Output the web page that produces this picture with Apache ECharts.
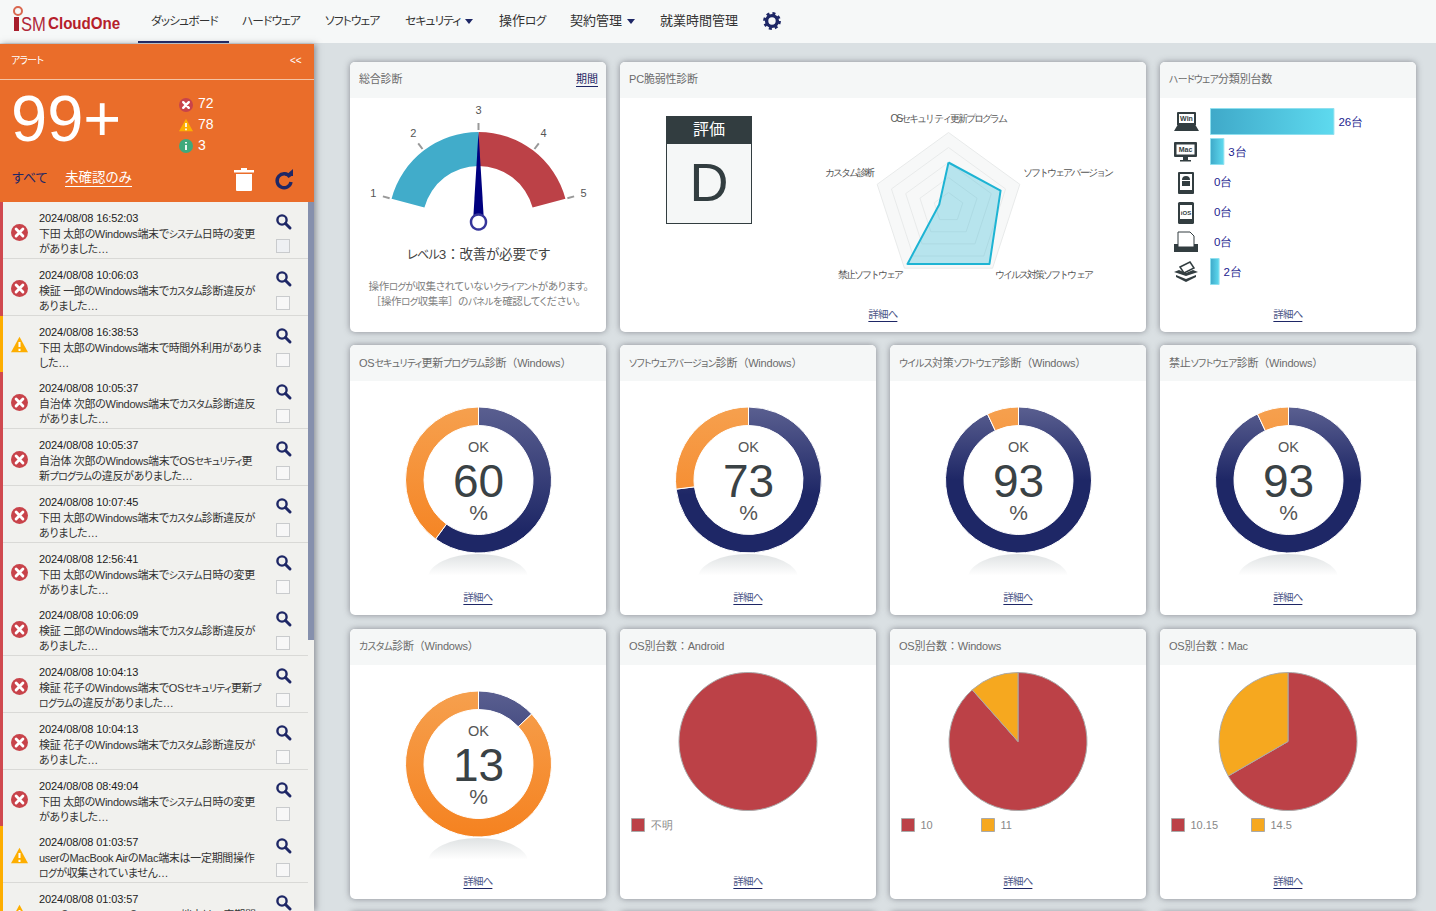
<!DOCTYPE html>
<html lang="ja">
<head>
<meta charset="utf-8">
<title>ISM CloudOne</title>
<script src="https://cdn.jsdelivr.net/npm/echarts@6/dist/echarts.min.js"></script>
<style>
html, body { margin: 0; padding: 0; width: 1436px; height: 911px; overflow: hidden; background: #dae0e3; }
body, text { font-family: "Liberation Sans", "Noto Sans CJK JP", sans-serif; font-feature-settings: "palt"; }
div { position: absolute; white-space: nowrap; }
svg { position: absolute; overflow: visible; }
.k { font-size: .9em; letter-spacing: -.07em; }
.f { font-feature-settings: normal; }
.panel { background: #fff; border-radius: 5px; box-shadow: 0 0 6px rgba(70,70,80,.55); overflow: hidden; }
.head { left: 0; top: 0; right: 0; height: 36px; background: #f5f7f7; }
.title { left: 9px; top: 10px; font-size: 11px; line-height: 15px; color: #6b6b6b; letter-spacing: -.2px; }
.more { font-size: 10.5px; line-height: 13px; color: #4d5788; border-bottom: 1px solid #1e2766; transform: translateX(-50%); letter-spacing: -.8px; }
.nav { top: 12px; font-size: 13px; line-height: 17px; color: #333; }
.item { left: 0; width: 308px; height: 56px; background: #f1f1ee; border-bottom: 1px solid #d9d9d6; }
.radar text { letter-spacing: -1.9px; }
</style>
</head>
<body>
<div id="page" style="left:0;top:0;width:1436px;height:911px;overflow:hidden"></div>
<script>
// chart values
const gaugeLabels = ['1', '2', '3', '4', '5'];
const gaugeLevel = 3;
const radarNames = ['OSセキュリティ更新プログラム', 'カスタム診断', '禁止ソフトウェア', 'ウイルス対策ソフトウェア', 'ソフトウェアバージョン'];
const radarValues = [60, 13, 93, 93, 73];
const hardwareNames = ['Win', 'Mac', 'Android', 'iOS', 'Printer', 'Other'];
const hardwareCounts = [26, 3, 0, 0, 0, 2];
const donutTitles = ['OSセキュリティ更新プログラム診断（Windows）', 'ソフトウェアバージョン診断（Windows）', 'ウイルス対策ソフトウェア診断（Windows）', '禁止ソフトウェア診断（Windows）', 'カスタム診断（Windows）'];
const donutValues = [60, 73, 93, 93, 13];
const androidNames = ['不明'];
const androidCounts = [1];
const windowsNames = ['10', '11'];
const windowsCounts = [23, 3];
const macNames = ['10.15', '14.5'];
const macCounts = [2, 1];

const alertTimes = ['16:52:03', '10:06:03', '16:38:53', '10:05:37', '10:05:37', '10:07:45', '12:56:41', '10:06:09', '10:04:13', '10:04:13', '08:49:04', '01:03:57', '01:03:57'];
const alertKinds = ['e', 'e', 'w', 'e', 'e', 'e', 'e', 'e', 'e', 'e', 'e', 'w', 'w'];
const alertLines = [
	['下田 太郎のWindows端末でシステム日時の変更', 'がありました…'],
	['検証 一郎のWindows端末でカスタム診断違反が', 'ありました…'],
	['下田 太郎のWindows端末で時間外利用がありま', 'した…'],
	['自治体 次郎のWindows端末でカスタム診断違反', 'がありました…'],
	['自治体 次郎のWindows端末でOSセキュリティ更', '新プログラムの違反がありました…'],
	['下田 太郎のWindows端末でカスタム診断違反が', 'ありました…'],
	['下田 太郎のWindows端末でシステム日時の変更', 'がありました…'],
	['検証 二郎のWindows端末でカスタム診断違反が', 'ありました…'],
	['検証 花子のWindows端末でOSセキュリティ更新プ', 'ログラムの違反がありました…'],
	['検証 花子のWindows端末でカスタム診断違反が', 'ありました…'],
	['下田 太郎のWindows端末でシステム日時の変更', 'がありました…'],
	['userのMacBook AirのMac端末は一定期間操作', 'ログが収集されていません…'],
	['userのMacBook AirのWindows端末は一定期間', '操作ログが収集されていません…']
];

const page = document.getElementById('page');
const navy = '#1e2766';
const red = '#bc4147';
const amber = '#f6a81f';

function box(parent, css, html) {
	const el = document.createElement('div');
	el.style.cssText = css;
	if (html !== undefined) el.innerHTML = html;
	parent.appendChild(el);
	return el;
}

// the reference's kana are much narrower than Noto's
function narrow(text) {
	return text.replace(/[ァ-ヶー]+/g, function (m) { return '<span class="k">' + m + '</span>'; })
		.replace(/[（）［］：]/g, function (m) { return '<span class="f">' + m + '</span>'; });
}

function errorIcon(x, y, r) {
	return '<svg style="left:' + (x - r) + 'px;top:' + (y - r) + 'px" width="' + (2 * r) + '" height="' + (2 * r) + '" viewBox="0 0 20 20"><circle cx="10" cy="10" r="10" fill="#c8434a"/><path d="M6 6L14 14M14 6L6 14" stroke="#fff" stroke-width="3.4" stroke-linecap="round"/></svg>';
}
function warnIcon(x, y, r) {
	return '<svg style="left:' + (x - r) + 'px;top:' + (y - r) + 'px" width="' + (2 * r) + '" height="' + (2 * r) + '" viewBox="0 0 20 20"><path d="M10 1L20 19H0Z" fill="#fdae00"/><path d="M10 7V13M10 15V17.5" stroke="#fff" stroke-width="2.4"/></svg>';
}
function lensIcon(x, y) {
	return '<svg style="left:' + x + 'px;top:' + y + 'px" width="15" height="15" viewBox="0 0 15 15"><circle cx="6" cy="6" r="4.6" fill="none" stroke="' + navy + '" stroke-width="2.4"/><path d="M9.5 9.5L14 14" stroke="' + navy + '" stroke-width="3" stroke-linecap="round"/></svg>';
}

// top navigation
function buildNav() {
	box(page, 'left:0;top:0;width:1436px;height:43px;background:#f6f8f8');
	box(page, 'left:14px;top:17px;width:5px;height:14px;background:#a81e2c');
	box(page, 'left:13px;top:6px;width:6px;height:6px;border:2px solid #d9674f;border-radius:50%');
	box(page, 'left:21px;top:13px;font-size:20px;line-height:22px;color:#b0283a;transform:scaleX(.83);transform-origin:left', 'SM');
	box(page, 'left:48px;top:13px;font-weight:bold;font-size:17px;line-height:22px;color:#b5202a;transform:scaleX(.89);transform-origin:left', 'CloudOne');
	const items = [['ダッシュボード', 151], ['ハードウェア', 242], ['ソフトウェア', 325], ['セキュリティ', 405], ['操作ログ', 499], ['契約管理', 570], ['就業時間管理', 660]];
	items.forEach(function (it) {
		const n = box(page, 'left:' + it[1] + 'px', narrow(it[0]));
		n.className = 'nav';
	});
	box(page, 'left:465px;top:19px;width:0;height:0;border:4px solid transparent;border-top:5px solid ' + navy + ';border-bottom:0');
	box(page, 'left:627px;top:19px;width:0;height:0;border:4px solid transparent;border-top:5px solid ' + navy + ';border-bottom:0');
	box(page, 'left:138px;top:41px;width:91px;height:2px;background:' + navy);
	box(page, 'left:763px;top:12px', '<svg width="18" height="18" viewBox="0 0 18 18"><circle cx="9" cy="9" r="5.4" fill="none" stroke="' + navy + '" stroke-width="3.4"/><circle cx="9" cy="9" r="7.6" fill="none" stroke="' + navy + '" stroke-width="2.6" stroke-dasharray="3 3"/></svg>');
}

// alert sidebar on the left
function buildSidebar() {
	const side = box(page, 'left:0;top:44px;width:314px;height:867px;background:#f1f1ee;box-shadow:2px 0 6px rgba(70,70,80,.5);overflow:hidden');
	box(side, 'left:0;top:0;width:314px;height:158px;background:#ea6d2a');
	box(side, 'left:0;top:35px;width:314px;height:1px;background:#f4c3a4');
	box(side, 'left:11px;top:9px;font-size:11px;line-height:15px;color:#fff', narrow('アラート'));
	box(side, 'left:290px;top:9px;font-size:10px;line-height:15px;color:#fff', '&lt;&lt;');
	box(side, 'left:11px;top:38px;font-size:65px;line-height:74px;color:#fff', '99+');
	side.insertAdjacentHTML('beforeend', errorIcon(186, 61, 7));
	side.insertAdjacentHTML('beforeend', warnIcon(186, 81, 7));
	side.insertAdjacentHTML('beforeend', '<svg style="left:179px;top:95px" width="14" height="14" viewBox="0 0 14 14"><circle cx="7" cy="7" r="7" fill="#3fa97c"/><path d="M7 6V11M7 3V4.6" stroke="#fff" stroke-width="1.8"/></svg>');
	box(side, 'left:198px;top:51px;font-size:14px;line-height:17px;color:#fff', '72');
	box(side, 'left:198px;top:72px;font-size:14px;line-height:17px;color:#fff', '78');
	box(side, 'left:198px;top:93px;font-size:14px;line-height:17px;color:#fff', '3');
	box(side, 'left:12px;top:125px;font-size:13px;line-height:17px;color:' + navy, 'すべて');
	box(side, 'left:65px;top:125px;font-size:13.5px;line-height:17px;color:#fff;border-bottom:1px solid #fff', '未確認のみ');
	side.insertAdjacentHTML('beforeend', '<svg style="left:234px;top:124px" width="20" height="23" viewBox="0 0 20 23"><path d="M7 0H13V2H20V4.500H0V2H7Z M2 6H18V22a1 1 0 0 1-1 1H3a1 1 0 0 1-1-1Z" fill="#fff"/></svg>');
	side.insertAdjacentHTML('beforeend', '<svg style="left:276px;top:125px" width="19" height="20" viewBox="0 0 19 20"><path d="M14 8A7 7 0 1 0 15 13" fill="none" stroke="' + navy + '" stroke-width="3.400"/><path d="M9 7H17V0Z" fill="' + navy + '"/></svg>');

	alertTimes.forEach(function (time, i) {
		const top = 158 + i * 56.75;
		const kind = alertKinds[i];
		const item = box(side, 'top:' + top + 'px');
		item.className = 'item';
		box(item, 'left:0;top:0;width:3px;height:57px;background:' + (kind === 'e' ? '#d0494f' : '#fdae00'));
		item.insertAdjacentHTML('beforeend', kind === 'e' ? errorIcon(19.5, 30, 8.5) : warnIcon(19.5, 29, 8.5));
		box(item, 'left:39px;top:9px;font-size:11px;line-height:15px;color:#222;letter-spacing:-.08px', '2024/08/08 ' + time);
		box(item, 'left:39px;top:25px;font-size:11px;line-height:15px;color:#333;letter-spacing:-.3px', narrow(alertLines[i][0]));
		box(item, 'left:39px;top:40px;font-size:11px;line-height:15px;color:#333;letter-spacing:-.3px', narrow(alertLines[i][1]));
		item.insertAdjacentHTML('beforeend', lensIcon(276, 12));
		box(item, 'left:276px;top:37px;width:12px;height:12px;border:1px solid #c9cbcd;background:' + (i === 0 ? '#eef0f3' : '#f7f7f7'));
	});
	box(side, 'left:308px;top:158px;width:6px;height:438px;background:#8690ad');
}

// one white card with its grey header
function panel(x, y, w, title) {
	const el = box(page, 'left:' + x + 'px;top:' + y + 'px;width:' + w + 'px;height:270px');
	el.className = 'panel';
	const head = box(el, '');
	head.className = 'head';
	const t = box(head, y === 345 ? 'top:11px' : '', narrow(title));
	t.className = 'title';
	return el;
}
function detail(el, x) {
	const more = box(el, 'left:' + x + 'px;top:246px', '詳細へ');
	more.className = 'more';
}
function chartDiv(el, x, y, w, h) {
	const d = box(el, 'left:' + x + 'px;top:' + y + 'px;width:' + w + 'px;height:' + h + 'px');
	return echarts.init(d, null, {renderer: 'svg'});
}

function buildGauge() {
	const el = panel(350, 62, 256, '総合診断');
	box(el, 'left:226px;top:10px;font-size:11px;line-height:14px;color:' + navy + ';border-bottom:1px solid ' + navy, '期間');
	box(el, 'left:128.500px;top:184px;transform:translateX(-50%);font-size:13.5px;line-height:18px;color:#444;letter-spacing:-.2px', narrow('レベル' + gaugeLevel + '：改善が必要です'));
	box(el, 'left:128.500px;top:217px;transform:translateX(-50%);font-size:10.5px;line-height:15px;color:#808080;letter-spacing:-.35px', narrow('操作ログが収集されていないクライアントがあります。'));
	box(el, 'left:125.500px;top:232px;transform:translateX(-50%);font-size:10.5px;line-height:15px;color:#808080;letter-spacing:-.35px', narrow('［操作ログ収集率］のパネルを確認してください。'));
	const chart = chartDiv(el, 0, 36, 256, 145);
	chart.setOption({
		animation: false,
		graphic: [{type: 'text', style: {text: gaugeLabels[2], x: 128.5, y: 12, align: 'center', verticalAlign: 'middle', fill: '#555', font: '11px "Liberation Sans"'}}],
		series: [{
			type: 'gauge',
			center: [128.5, 124],
			radius: 90,
			startAngle: 165,
			endAngle: 15,
			min: Number(gaugeLabels[0]),
			max: Number(gaugeLabels[gaugeLabels.length - 1]),
			splitNumber: gaugeLabels.length - 1,
			axisLine: {lineStyle: {width: 34, color: [[0.5, '#41acca'], [1, red]]}},
			axisTick: {show: false},
			splitLine: {distance: -43, length: 7, lineStyle: {color: '#999', width: 2}},
			// the top label is anchored differently by the gauge, so it is drawn as graphic above
			axisLabel: {distance: 14, color: '#555', fontSize: 11, formatter: function (v) { return v === gaugeLevel ? '' : String(v); }},
			pointer: {icon: 'triangle', length: 90, width: 11, offsetCenter: [0, 0], itemStyle: {color: '#00007f'}},
			anchor: {show: true, showAbove: true, size: 15, itemStyle: {color: '#fff', borderColor: '#35359a', borderWidth: 2.5}},
			title: {show: false},
			detail: {show: false},
			data: [{value: gaugeLevel}]
		}]
	});
}

function buildRadar() {
	const el = panel(620, 62, 526, 'PC脆弱性診断');
	box(el, 'left:46px;top:54px;width:86px;height:108px;box-sizing:border-box;border:1px solid #323d40;background:#f5f7f7');
	box(el, 'left:46px;top:54px;width:86px;height:28px;background:#323d40;color:#fff;font-size:16px;line-height:28px;text-align:center', '評価');
	box(el, 'left:46px;top:80px;width:86px;height:80px;color:#323d40;font-size:54px;line-height:80px;text-align:center', 'D');
	detail(el, 263);
	const chart = chartDiv(el, 150, 36, 370, 205);
	chart.getDom().classList.add('radar');
	const font = {color: '#555', fontSize: 10};
	chart.setOption({
		animation: false,
		radar: {
			center: [178.5, 109.5],
			radius: 75,
			splitNumber: 5,
			nameGap: 0,
			axisName: {
				color: '#555',
				fontSize: 10,
				// each name sits on its own side of the pentagon
				formatter: function (name) { return '{s' + radarNames.indexOf(name) + '|' + name + '}'; },
				rich: {
					s0: Object.assign({align: 'center', padding: [0, 0, 9, 0]}, font),
					s1: Object.assign({align: 'right', padding: [0, 4, 24, 0]}, font),
					s2: Object.assign({align: 'right', padding: [13, 2, 0, 0]}, font),
					s3: Object.assign({align: 'left', padding: [13, 0, 0, 2]}, font),
					s4: Object.assign({align: 'left', padding: [0, 0, 24, 3]}, font)
				}
			},
			axisLine: {show: false},
			splitLine: {lineStyle: {color: '#e8eaea', width: 1}},
			splitArea: {areaStyle: {color: ['#f7f8f8', '#f7f8f8'], opacity: 1}},
			indicator: radarNames.map(function (name) { return {name: name, max: 100}; })
		},
		series: [{
			type: 'radar',
			symbol: 'none',
			lineStyle: {color: '#1eb4d4', width: 2},
			areaStyle: {color: 'rgba(31,180,212,.42)'},
			data: [{value: radarValues}]
		}]
	});
}

function hardwareIcons(el) {
	const dark = '#323d40';
	const icons = [
		'<rect x="3" y="0" width="19" height="14" rx="1" fill="' + dark + '"/><rect x="5" y="2" width="15" height="9" fill="#fff"/><text x="12.500" y="9" font-size="7" font-weight="bold" text-anchor="middle" fill="' + dark + '" font-family="DejaVu Sans Mono">Win</text><path d="M3 14H22L25 19H0Z" fill="' + dark + '"/>',
		'<rect x="0" y="0" width="23" height="15" rx="1" fill="' + dark + '"/><rect x="2.500" y="2.500" width="18" height="10" fill="#fff"/><text x="11.500" y="10" font-size="7" font-weight="bold" text-anchor="middle" fill="' + dark + '" font-family="DejaVu Sans Mono">Mac</text><rect x="9" y="15" width="5" height="3" fill="' + dark + '"/><rect x="6" y="18" width="11" height="1.500" fill="' + dark + '"/>',
		'<rect x="4" y="0" width="16" height="22" rx="1" fill="' + dark + '"/><rect x="6" y="2" width="12" height="16" fill="#fff"/><path d="M8 8a4 4 0 0 1 8 0ZM8 9H16V14H8Z" fill="' + dark + '"/>',
		'<rect x="4" y="0" width="16" height="22" rx="1.500" fill="' + dark + '"/><rect x="6" y="3" width="12" height="14" fill="#fff"/><text x="12" y="13" font-size="6" font-weight="bold" text-anchor="middle" fill="' + dark + '" font-family="DejaVu Sans Mono">iOS</text>',
		'<rect x="0" y="12" width="24" height="8" fill="' + dark + '"/><path d="M4 0H16L20 4V15H4Z" fill="#fff" stroke="' + dark + '" stroke-width="1"/>',
		'<path d="M6 5L16 0L20 6L10 11Z" fill="#fff" stroke="' + dark + '" stroke-width="1.500"/><path d="M0 10L12 14L24 10L19 8L12 11L5 8Z M2 13L12 17L22 13V15L12 20L2 15Z" fill="' + dark + '"/>'
	];
	icons.forEach(function (body, i) {
		box(el, 'left:14px;top:' + (50 + i * 30) + 'px', '<svg width="25" height="22" viewBox="0 0 25 22"><title>' + hardwareNames[i] + '</title>' + body + '</svg>');
	});
}

function buildHardware() {
	const el = panel(1160, 62, 256, 'ハードウェア分類別台数');
	hardwareIcons(el);
	detail(el, 128);
	const chart = chartDiv(el, 0, 36, 256, 190);
	chart.setOption({
		animation: false,
		grid: {left: 50, top: 8.5, width: 200, height: 180},
		xAxis: {type: 'value', min: 0, max: 41.8, show: false},
		yAxis: {type: 'category', inverse: true, show: false, data: hardwareNames},
		series: [{
			type: 'bar',
			barWidth: 27,
			label: {show: true, position: 'right', distance: 4, color: '#1c1c8e', fontSize: 11.5, formatter: '{c}台'},
			data: hardwareCounts.map(function (v) {
				return {
					value: v,
					itemStyle: {
						borderColor: '#8fe0ef',
						borderWidth: v > 0 ? 1 : 0,
						color: {type: 'linear', x: 0, y: 0, x2: 1, y2: 0, colorStops: [{offset: 0, color: '#3fa9c9'}, {offset: 1, color: '#5edaef'}]}
					}
				};
			})
		}]
	});
}

function buildDonut(x, y, title, value) {
	const el = panel(x, y, 256, title);
	box(el, 'left:78px;top:209px;width:100px;height:24px;border-radius:50% 50% 0 0 / 100% 100% 0 0;background:linear-gradient(#dfe2e3,#fff 90%)');
	detail(el, 128);
	const chart = chartDiv(el, 0, 36, 256, 195);
	function grad(top, bottom, stop) {
		return {type: 'linear', global: true, x: 0, y: 26.5, x2: 0, y2: 171.5, colorStops: [{offset: 0, color: top}, {offset: stop, color: bottom}, {offset: 1, color: bottom}]};
	}
	// the navy reaches full depth sooner on the fuller rings
	const darkStop = value >= 90 ? 0.5 : value >= 70 ? 0.6 : 0.85;
	chart.setOption({
		animation: false,
		graphic: [
			{type: 'text', style: {text: 'OK', x: 128.5, y: 66, align: 'center', verticalAlign: 'middle', fill: '#555', font: '14.5px "Liberation Sans"'}},
			{type: 'text', style: {text: String(value), x: 128.5, y: 100, align: 'center', verticalAlign: 'middle', fill: '#3a4245', font: '46px "Liberation Sans"'}},
			{type: 'text', style: {text: '%', x: 128.5, y: 131, align: 'center', verticalAlign: 'middle', fill: '#555', font: '21px "Liberation Sans"'}}
		],
		series: [{
			type: 'pie',
			center: [128.5, 99],
			radius: [54.5, 73],
			startAngle: 90,
			silent: true,
			label: {show: false},
			labelLine: {show: false},
			data: [
				{value: value, itemStyle: {color: grad('#5a5f90', navy, darkStop), borderColor: '#fff', borderWidth: 1}},
				{value: 100 - value, itemStyle: {color: grad('#f6a04e', '#f58220', 1), borderColor: '#fff', borderWidth: 1}}
			]
		}]
	});
}

function buildPie(x, title, names, counts) {
	const el = panel(x, 629, 256, title);
	detail(el, 128);
	const chart = chartDiv(el, 0, 36, 256, 195);
	chart.setOption({
		animation: false,
		color: [red, amber],
		// one legend per entry: the items stand on a fixed 80px pitch
		legend: names.map(function (name, i) {
			return {
				left: 11 + i * 80,
				top: 153,
				padding: 0,
				itemWidth: 13,
				itemHeight: 13,
				itemStyle: {borderColor: '#aaa', borderWidth: 1},
				icon: 'rect',
				textStyle: {color: '#888', fontSize: 11, padding: [0, 0, 0, 1]},
				data: [name]
			};
		}),
		series: [{
			type: 'pie',
			center: [128, 76.5],
			radius: 69,
			startAngle: 90,
			silent: true,
			label: {show: false},
			labelLine: {show: false},
			itemStyle: {borderColor: '#aaa', borderWidth: 1},
			data: names.map(function (n, i) { return {name: n, value: counts[i]}; })
		}]
	});
}

buildNav();
buildSidebar();
buildGauge();
buildRadar();
buildHardware();
buildDonut(350, 345, donutTitles[0], donutValues[0]);
buildDonut(620, 345, donutTitles[1], donutValues[1]);
buildDonut(890, 345, donutTitles[2], donutValues[2]);
buildDonut(1160, 345, donutTitles[3], donutValues[3]);
buildDonut(350, 629, donutTitles[4], donutValues[4]);
buildPie(620, 'OS別台数：Android', androidNames, androidCounts);
buildPie(890, 'OS別台数：Windows', windowsNames, windowsCounts);
buildPie(1160, 'OS別台数：Mac', macNames, macCounts);
[350, 620, 890, 1160].forEach(function (x) { panel(x, 912, 256, ''); });
</script>
</body>
</html>
